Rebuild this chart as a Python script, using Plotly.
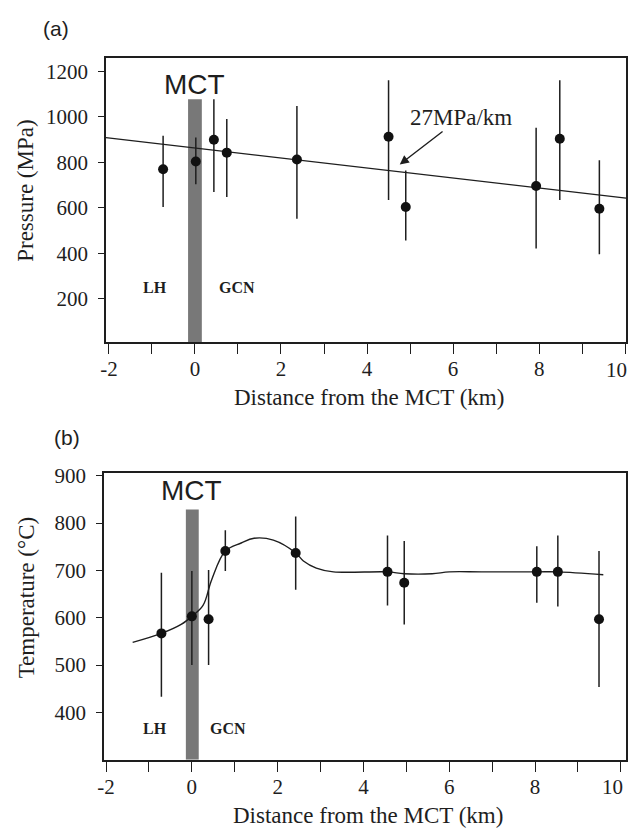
import plotly.graph_objects as go

# ---------------- data: panel (a) pressure ----------------
p_dist = [-0.74, 0.02, 0.44, 0.74, 2.37, 4.50, 4.90, 7.93, 8.48, 9.40]
p_val = [770, 804, 900, 843, 813, 913, 604, 696, 904, 596]
p_err_plus = [147, 105, 178, 148, 235, 248, 161, 256, 257, 213]
p_err_minus = [166, 100, 230, 195, 261, 278, 147, 274, 269, 200]
trend_x = [-2.07, 10.02]
trend_y = [909, 643]
p_mct_top = 1078

# ---------------- data: panel (b) temperature ----------------
t_dist = [-0.71, 0.00, 0.39, 0.78, 2.42, 4.56, 4.95, 8.04, 8.53, 9.49]
t_val = [567, 603, 597, 741, 737, 697, 674, 697, 697, 597]
t_err_plus = [128, 96, 104, 44, 77, 77, 88, 54, 77, 144]
t_err_minus = [134, 103, 97, 42, 78, 71, 88, 65, 73, 143]
curve_x = [-1.38, -0.71, -0.25, 0.0, 0.26, 0.46, 0.78, 1.15, 1.45, 1.9, 2.42,
           2.6, 2.9, 3.3, 4.56, 4.95, 5.6, 6.0, 6.75, 8.04, 8.53, 9.59]
curve_y = [548, 567, 586, 603, 626, 680, 741, 758, 768, 764, 737,
           720, 705, 697, 697, 693, 693, 697, 697, 697, 697, 691]
t_mct_top = 829

x_tickvals = list(range(-2, 11))
X_EDGE_LABEL = 10  # drawn as an annotation so it stays inside the page
x_ticktext = [str(v) if (v % 2 == 0 and v != X_EDGE_LABEL) else "" for v in x_tickvals]
p_ticks = [200, 400, 600, 800, 1000, 1200]
t_ticks = [400, 500, 600, 700, 800, 900]

SERIF = "Liberation Serif"
SANS = "Liberation Sans"
INK = "#1e1e1e"
W, H = 630, 833


def fx(p):
    return p / W


def fy(p):
    return 1 - p / H


fig = go.Figure()

# panel (a)
fig.add_trace(go.Scatter(x=trend_x, y=trend_y, mode="lines",
                         line=dict(color=INK, width=1.4), xaxis="x", yaxis="y",
                         showlegend=False, hoverinfo="skip"))
fig.add_trace(go.Scatter(x=p_dist, y=p_val, mode="markers",
                         marker=dict(color="#111", size=10),
                         error_y=dict(type="data", symmetric=False, array=p_err_plus,
                                      arrayminus=p_err_minus, color=INK,
                                      thickness=1.5, width=0),
                         xaxis="x", yaxis="y", showlegend=False))

# panel (b)
fig.add_trace(go.Scatter(x=curve_x, y=curve_y, mode="lines",
                         line=dict(color=INK, width=1.4, shape="spline", smoothing=1.0),
                         xaxis="x2", yaxis="y2", showlegend=False, hoverinfo="skip"))
fig.add_trace(go.Scatter(x=t_dist, y=t_val, mode="markers",
                         marker=dict(color="#111", size=10),
                         error_y=dict(type="data", symmetric=False, array=t_err_plus,
                                      arrayminus=t_err_minus, color=INK,
                                      thickness=1.5, width=0),
                         xaxis="x2", yaxis="y2", showlegend=False))

P_RANGE = [9, 1257]
T_RANGE = [300, 906]

shapes = [
    dict(type="rect", xref="x", yref="y", x0=-0.16, x1=0.16, y0=P_RANGE[0], y1=p_mct_top,
         fillcolor="#787878", line=dict(width=0), layer="below"),
    dict(type="rect", xref="x2", yref="y2", x0=-0.14, x1=0.16, y0=T_RANGE[0], y1=t_mct_top,
         fillcolor="#787878", line=dict(width=0), layer="below"),
]

TICK_FONT = dict(family=SERIF, size=21, color=INK)
axis_common = dict(showline=True, linecolor=INK, linewidth=1.5, mirror=True,
                   ticks="outside", tickcolor=INK, tickwidth=1.3, showgrid=False,
                   zeroline=False, tickfont=TICK_FONT)


def px_note(text, x, y, family, size, angle=0):
    return dict(text=text, x=fx(x), y=fy(y), xref="paper", yref="paper",
                xanchor="center", yanchor="middle", showarrow=False, textangle=angle,
                font=dict(family=family, size=size, color=INK))


def data_note(text, x, y, axes, family, size):
    return dict(text=text, x=x, y=y, xref=axes[0], yref=axes[1], showarrow=False,
                xanchor="center", yanchor="middle",
                font=dict(family=family, size=size, color=INK))


def edge_tick(xref, ypix):
    return dict(text=str(X_EDGE_LABEL), x=X_EDGE_LABEL, xref=xref, y=fy(ypix), yref="paper",
                xanchor="right", yanchor="middle", xshift=4, showarrow=False,
                font=TICK_FONT)


annotations = [
    px_note("(a)", 50, 20, SANS, 21),
    px_note("(b)", 61, 433, SANS, 21),
    px_note("Distance from the MCT (km)", 366, 393, SERIF, 23),
    px_note("Distance from the MCT (km)", 365, 815, SERIF, 23),
    px_note("Pressure (MPa)", 18, 184, SERIF, 23, -90),
    px_note("Temperature (°C)", 20, 595, SERIF, 23, -90),
    data_note("MCT", 0.0, 1143, ("x", "y"), SANS, 28),
    data_note("MCT", 0.0, 869, ("x2", "y2"), SANS, 28),
    data_note("<b>LH</b>", -0.92, 248, ("x", "y"), SERIF, 16),
    data_note("<b>GCN</b>", 0.97, 248, ("x", "y"), SERIF, 16),
    data_note("<b>LH</b>", -0.85, 367, ("x2", "y2"), SERIF, 16),
    data_note("<b>GCN</b>", 0.85, 367, ("x2", "y2"), SERIF, 16),
    dict(text="27MPa/km", x=4.76, y=791, xref="x", yref="y", showarrow=True,
         ax=61, ay=-47, arrowhead=2, arrowsize=1.3, arrowwidth=1.4, arrowcolor=INK,
         font=dict(family=SERIF, size=23, color=INK)),
    edge_tick("x", 365),
    edge_tick("x2", 787),
]

fig.update_layout(
    width=W, height=H, margin=dict(l=0, r=0, t=0, b=0),
    paper_bgcolor="white", plot_bgcolor="white",
    xaxis=dict(domain=[fx(100), fx(626)], range=[-2.07, 10.02], anchor="y",
               tickvals=x_tickvals, ticktext=x_ticktext, ticklen=10,
               ticklabelstandoff=-3, **axis_common),
    yaxis=dict(domain=[fy(337), fy(50)], range=P_RANGE, anchor="x",
               tickvals=p_ticks, ticklen=6, ticklabelstandoff=6, **axis_common),
    xaxis2=dict(domain=[fx(98), fx(626)], range=[-2.05, 10.12], anchor="y2",
                tickvals=x_tickvals, ticktext=x_ticktext, ticklen=10,
                ticklabelstandoff=-3, **axis_common),
    yaxis2=dict(domain=[fy(759), fy(469)], range=T_RANGE, anchor="x2",
                tickvals=t_ticks, ticklen=6, ticklabelstandoff=6, **axis_common),
    shapes=shapes,
    annotations=annotations,
)

fig.write_html("out.html")
